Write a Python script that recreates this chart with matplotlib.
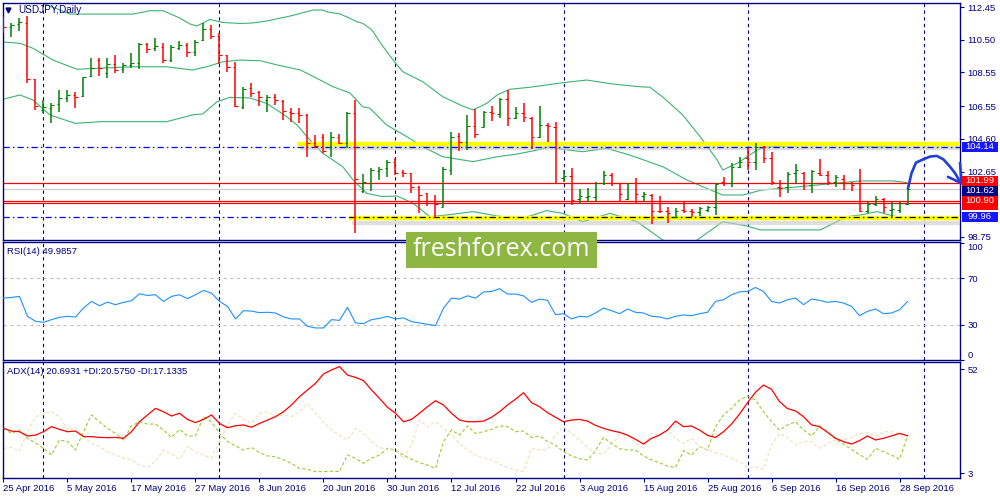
import numpy as np
import pandas as pd
import matplotlib
matplotlib.use("Agg")
import matplotlib.pyplot as plt
from matplotlib.patches import Rectangle

plt.rcParams['font.family'] = ['Liberation Sans', 'DejaVu Sans']

# ---------------- data ----------------
symbol_title = "USDJPY,Daily"
start_date = "2016-04-25"

opens = [111.68, 111.26, 111.44, 111.50, 108.16, 106.32, 106.43, 106.67, 107.03, 107.21,
         107.15, 108.34, 109.29, 108.52, 109.06, 108.76, 109.00, 109.12, 110.25, 110.01,
         110.07, 109.29, 110.01, 110.19, 109.77, 110.48, 111.14, 110.72, 109.59, 108.88,
         106.49, 107.63, 107.39, 106.91, 107.09, 106.85, 106.20, 106.14, 106.02, 104.35,
         104.71, 104.11, 104.71, 104.35, 106.14, 101.49, 101.97, 102.68, 102.86, 103.22,
         102.62, 102.56, 101.73, 101.37, 100.78, 100.54, 102.74, 104.77, 104.41, 105.36,
         105.30, 106.20, 106.08, 106.97, 105.84, 106.14, 105.84, 104.71, 105.42, 105.30,
         102.27, 102.39, 101.02, 101.13, 101.13, 101.97, 102.44, 101.97, 101.02, 101.97,
         101.19, 101.25, 100.30, 100.30, 99.94, 100.36, 100.30, 100.24, 100.36, 100.54,
         102.03, 101.97, 102.92, 103.46, 103.22, 104.11, 103.46, 101.73, 101.73, 102.56,
         102.56, 101.85, 102.56, 102.44, 102.03, 102.21, 101.97, 101.97, 100.30, 100.72,
         101.02, 100.36, 100.36, 100.72]
highs = [111.87, 111.50, 111.79, 111.91, 108.16, 106.91, 106.73, 107.51, 107.51, 107.39,
         108.28, 109.41, 109.41, 109.41, 109.59, 109.12, 109.71, 110.31, 110.31, 110.60,
         110.31, 110.19, 110.43, 110.31, 110.48, 111.50, 111.38, 110.90, 109.59, 109.17,
         107.69, 107.92, 107.45, 107.21, 107.27, 106.91, 106.43, 106.43, 106.08, 104.83,
         104.89, 105.01, 104.89, 106.20, 106.91, 102.50, 102.86, 102.92, 103.34, 103.46,
         102.74, 102.56, 101.79, 101.37, 101.25, 102.92, 105.01, 104.95, 106.02, 106.38,
         106.26, 106.55, 107.03, 107.51, 106.49, 106.73, 105.90, 106.55, 105.54, 105.60,
         102.74, 102.86, 101.61, 101.67, 102.03, 102.68, 102.56, 101.97, 101.97, 102.27,
         101.43, 101.31, 101.19, 100.54, 100.48, 100.84, 100.42, 100.54, 100.60, 101.97,
         102.33, 103.16, 103.52, 104.05, 104.35, 104.17, 103.82, 102.15, 102.62, 103.10,
         102.62, 102.74, 103.40, 102.68, 102.44, 102.44, 102.03, 102.80, 100.90, 101.19,
         101.08, 100.84, 100.84, 101.67]
lows = [110.90, 110.66, 111.02, 107.92, 106.32, 106.14, 105.54, 106.20, 106.79, 106.43,
        107.09, 108.28, 108.34, 108.22, 108.52, 108.52, 108.82, 108.76, 109.71, 109.83,
        109.12, 109.17, 109.89, 109.47, 109.53, 110.43, 110.54, 109.06, 108.58, 106.49,
        106.38, 107.09, 106.55, 106.20, 106.61, 105.72, 105.60, 105.54, 103.52, 104.05,
        103.75, 103.52, 104.29, 104.05, 98.99, 101.37, 101.49, 102.15, 102.33, 102.45,
        102.33, 101.37, 100.18, 100.60, 99.88, 100.54, 102.45, 103.87, 103.93, 104.65,
        105.30, 105.66, 105.84, 105.36, 105.78, 105.60, 103.99, 104.65, 104.41, 101.97,
        102.03, 100.66, 100.72, 100.84, 100.84, 101.85, 101.79, 100.84, 100.96, 100.78,
        100.84, 99.50, 100.18, 99.56, 99.88, 100.18, 99.94, 100.00, 100.24, 100.06,
        101.79, 101.73, 102.86, 102.74, 102.74, 103.16, 101.85, 101.13, 101.37, 101.91,
        101.55, 101.37, 102.39, 101.85, 101.73, 101.55, 101.49, 100.24, 100.18, 100.60,
        100.18, 99.94, 100.18, 100.66]
closes = [111.26, 111.38, 111.56, 108.16, 106.55, 106.49, 106.61, 107.03, 107.21, 107.09,
          108.28, 108.82, 108.82, 109.06, 108.70, 109.00, 109.12, 110.25, 109.95, 110.13,
          109.29, 110.07, 110.19, 109.77, 110.37, 111.14, 110.72, 109.59, 108.88, 106.55,
          107.57, 107.33, 107.09, 107.09, 106.91, 106.26, 106.14, 106.02, 104.35, 104.17,
          103.87, 104.71, 104.35, 106.14, 102.21, 102.03, 102.74, 102.80, 103.22, 102.56,
          102.56, 101.73, 101.25, 100.78, 100.72, 102.80, 104.71, 104.41, 105.36, 104.89,
          106.20, 106.14, 106.97, 105.84, 106.14, 105.90, 104.71, 105.42, 105.36, 101.97,
          102.39, 100.96, 101.19, 101.17, 101.97, 102.44, 101.97, 101.31, 101.97, 101.31,
          101.31, 100.30, 100.28, 100.18, 100.30, 100.30, 100.24, 100.48, 100.54, 101.91,
          101.97, 102.92, 103.22, 103.22, 104.11, 103.46, 102.03, 101.67, 102.50, 102.74,
          101.97, 102.68, 102.44, 102.03, 102.33, 101.97, 101.85, 100.30, 100.72, 101.02,
          100.54, 100.39, 100.78, 101.62]

# Bollinger bands (bar position, price)
bb_upper_pos = [-1.0, 4.56, 8.31, 16.19, 18.31, 19.94, 22.06, 23.3, 24.19, 25.8, 27.4, 29.6,
                31.2, 32.9, 35.8, 37.4, 38.7, 39.9, 40.4, 42.1, 43.3, 44.2, 44.9, 45.8, 46.2,
                47.3, 48.7, 49.9, 52.4, 54.9, 57.4, 58.7, 60.4, 61.7, 63.3, 65.8, 69.9, 72.9,
                76.2, 79.6, 80.8, 82.4, 84.9, 87.4, 89.2, 89.9, 91.7, 94.2, 95.2, 100.8, 104.6,
                107.1, 112.9]
bb_upper_val = [113.6, 112.75, 112.03, 112.03, 112.23, 112.23, 111.79, 111.44, 111.32, 111.71,
                111.53, 111.47, 111.50, 111.62, 111.91, 112.11, 112.27, 112.27, 112.17, 112.03,
                111.78, 111.57, 111.48, 111.18, 110.98, 110.19, 109.29, 108.60, 108.00, 107.11,
                106.55, 106.32, 106.71, 107.21, 107.55, 107.67, 107.94, 108.10, 107.86, 107.70,
                107.67, 107.09, 106.02, 104.53, 103.34, 102.74, 103.14, 103.93, 104.11, 104.23,
                104.23, 104.13, 104.09]
bb_mid_pos = [-0.44, 2.06, 3.69, 6.19, 9.19, 11.7, 16.2, 20.4, 23.6, 25.4, 27.4, 29.6, 32.1,
              34.2, 37.1, 39.6, 41.2, 43.3, 44.9, 45.8, 47.9, 50.4, 52.4, 54.9, 58.7, 61.7,
              64.2, 66.7, 68.3, 69.9, 72.4, 75.4, 78.3, 81.2, 82.4, 85.4, 87.4, 89.9, 92.4,
              94.8, 98.7, 104.9, 107.1, 111.2, 112.9]
bb_mid_val = [110.38, 110.29, 109.99, 109.29, 108.74, 108.80, 108.89, 108.89, 108.70, 108.89,
              109.19, 109.29, 109.25, 109.00, 108.70, 108.10, 107.70, 107.33, 106.51, 106.42,
              105.42, 104.73, 104.13, 103.53, 103.24, 103.53, 103.69, 103.93, 104.13, 103.97,
              103.83, 104.03, 103.63, 103.14, 102.94, 102.15, 101.75, 101.25, 101.25, 101.55,
              101.71, 101.99, 102.09, 102.09, 101.99]
bb_low_pos = [-0.44, 2.06, 3.69, 5.81, 8.94, 12.1, 20.4, 23.6, 24.9, 26.7, 28.3, 30.8, 32.9,
              35.4, 36.7, 38.3, 39.9, 42.4, 43.7, 45.4, 47.3, 49.2, 51.2, 53.3, 55.4, 58.7,
              61.7, 64.9, 67.9, 69.9, 72.4, 75.8, 79.2, 82.4, 84.6, 86.7, 89.9, 92.9, 94.6,
              102.1, 105.4, 107.1, 109.2, 111.2, 112.9]
bb_low_val = [106.91, 107.21, 106.91, 106.02, 105.52, 105.62, 105.62, 106.02, 106.08, 106.81,
              107.07, 107.03, 106.71, 105.92, 105.42, 104.53, 103.74, 102.94, 102.15, 101.35,
              101.16, 101.19, 100.76, 99.96, 100.06, 100.26, 100.00, 99.86, 100.32, 100.16,
              99.66, 100.16, 99.66, 98.57, 98.10, 98.57, 99.66, 99.41, 99.17, 99.17, 99.96,
              100.06, 100.26, 100.00, 99.86]

rsi = [52.9, 53.5, 54.4, 37.4, 33.1, 32.2, 34.5, 36.5, 37.3, 36.8,
       44.4, 50.1, 46.4, 49.5, 47.3, 49.3, 50.7, 56.6, 55.2, 55.8,
       50.1, 54.4, 55.8, 52.4, 55.8, 59.5, 57.2, 50.1, 45.9, 35.1,
       42.2, 41.8, 40.5, 40.8, 40.2, 36.8, 35.1, 35.1, 28.8, 27.4,
       27.4, 34.5, 33.9, 45.0, 31.7, 31.1, 34.5, 35.6, 37.3, 35.1,
       36.0, 32.8, 31.7, 30.5, 29.4, 44.4, 52.9, 52.1, 54.9, 52.9,
       58.1, 58.6, 61.0, 56.4, 56.4, 54.9, 49.3, 52.1, 51.0, 38.8,
       39.6, 35.1, 37.4, 36.8, 40.2, 44.4, 42.2, 39.6, 43.6, 40.8,
       40.2, 37.4, 36.8, 35.1, 37.4, 38.5, 37.9, 39.6, 40.8, 50.1,
       51.5, 55.8, 58.3, 58.6, 62.0, 58.6, 50.1, 48.7, 51.5, 53.0,
       47.3, 52.1, 51.0, 49.3, 50.1, 48.7, 45.9, 37.9, 41.6, 43.6,
       39.6, 40.2, 43.0, 49.99]

adx = [24.2, 22.9, 22.6, 20.6, 21.0, 22.6, 25.0, 23.7, 22.6, 22.9,
       20.3, 20.3, 19.9, 19.8, 19.9, 19.5, 22.6, 27.3, 30.5, 33.6,
       32.0, 30.0, 31.3, 28.4, 26.9, 28.4, 30.5, 26.5, 24.5, 25.4,
       25.8, 24.7, 26.5, 28.1, 29.7, 32.0, 35.2, 39.1, 42.3, 45.4,
       49.8, 51.7, 53.3, 49.3, 48.2, 46.7, 42.3, 38.3, 34.1, 31.3,
       27.3, 28.4, 31.3, 34.4, 37.2, 35.2, 31.3, 28.1, 27.3, 27.3,
       27.6, 29.4, 32.0, 35.2, 37.9, 41.0, 36.3, 34.4, 31.6, 29.4,
       27.3, 28.1, 28.4, 27.6, 25.6, 24.2, 23.1, 22.3, 21.0, 19.0,
       16.8, 19.5, 21.0, 23.4, 27.6, 25.0, 25.3, 23.4, 20.9, 19.9,
       22.6, 26.2, 30.9, 36.3, 41.2, 44.6, 42.6, 36.8, 33.5, 32.4,
       29.7, 25.8, 25.0, 22.3, 19.5, 17.9, 16.8, 18.4, 20.6, 18.7,
       19.5, 20.6, 21.8, 20.69]
plus_di = [24.2, 21.8, 23.4, 19.5, 17.4, 14.8, 11.6, 18.7, 18.0, 14.0,
           22.6, 30.5, 27.3, 24.2, 21.8, 18.7, 25.3, 27.3, 26.2, 26.2,
           23.4, 19.9, 23.7, 20.6, 20.6, 29.7, 27.3, 21.8, 18.0, 15.9,
           14.0, 15.2, 12.7, 11.2, 10.8, 9.3, 7.7, 5.3, 4.9, 3.8,
           3.8, 4.0, 3.8, 11.6, 10.1, 7.7, 10.1, 11.6, 14.8, 14.0,
           11.6, 9.6, 8.0, 6.9, 5.3, 18.0, 23.4, 21.0, 25.3, 21.8,
           22.6, 23.7, 25.3, 25.0, 22.6, 22.9, 19.9, 20.6, 18.0, 16.2,
           13.2, 11.2, 9.9, 9.3, 13.7, 19.9, 17.1, 14.6, 14.0, 14.0,
           11.2, 9.3, 8.0, 6.4, 5.8, 13.7, 11.6, 15.5, 14.0, 25.0,
           30.5, 33.6, 37.5, 39.4, 37.5, 32.0, 27.3, 23.4, 25.8, 27.3,
           23.4, 20.6, 25.0, 22.6, 19.2, 16.7, 14.3, 11.8, 9.6, 14.8,
           13.2, 11.6, 9.6, 20.58]
minus_di = [14.8, 15.2, 13.2, 22.6, 29.7, 31.3, 32.0, 29.7, 23.4, 24.2,
            20.3, 17.1, 15.5, 13.2, 11.6, 10.1, 9.3, 6.9, 5.8, 8.5,
            14.0, 12.1, 9.6, 15.5, 13.2, 11.6, 10.1, 17.9, 25.8, 31.3,
            28.4, 26.5, 31.3, 32.0, 30.0, 30.5, 29.7, 32.0, 36.0, 31.3,
            27.3, 23.4, 21.0, 18.7, 24.2, 21.8, 18.0, 15.2, 14.0, 14.0,
            10.1, 16.3, 28.1, 25.0, 27.3, 24.2, 21.0, 17.1, 14.0, 11.6,
            10.1, 9.3, 7.4, 5.8, 4.6, 3.8, 14.8, 14.0, 14.3, 21.0,
            25.0, 21.8, 18.7, 15.2, 12.4, 12.1, 16.3, 21.0, 21.0, 17.1,
            15.2, 21.8, 21.0, 23.4, 19.5, 17.1, 19.5, 15.5, 14.0, 12.7,
            11.6, 10.1, 8.5, 5.8, 6.1, 4.9, 16.3, 21.8, 19.9, 16.3,
            18.0, 18.0, 14.8, 17.1, 18.7, 18.7, 19.9, 21.8, 22.1, 20.3,
            22.6, 22.6, 21.8, 17.13]

# horizontal levels
level_resist = 104.14
level_support = 99.96
red_levels = [101.99, 100.90, 100.78]
bid_price = 101.62
yellow_top = 104.29
yellow_bottom = 99.87
yellow_top_start = 36.7
yellow_bottom_start = 43.2

# hand-drawn forecast arrow (bar position, price)
arrow_pos = [113.06, 113.5, 114.06, 114.98, 115.81, 116.65, 117.47, 118.31, 118.94, 119.56, 119.77]
arrow_val = [101.65, 102.55, 103.18, 103.38, 103.54, 103.58, 103.38, 102.94, 102.55, 102.05, 101.95]
arrow_head_pos = [119.56, 119.77, 118.06]
arrow_head_val = [103.16, 101.95, 102.33]

# visible price-scale labels (100.70 is hidden behind the level boxes in the original)
price_ticks = [112.45, 110.50, 108.55, 106.55, 104.60, 102.65, 98.75]
rsi_ticks = [0, 30, 70, 100]
adx_ticks = [3, 52]

rsi_text = "RSI(14) 49.9857"
adx_text = "ADX(14) 20.6931 +DI:20.5750 -DI:17.1335"
watermark = "freshforex.com"

# ---------------- drawing ----------------
NAVY = '#000080'
FS = 6.8
n = len(opens)
x = np.arange(n)
o = np.array(opens); h = np.array(highs); l = np.array(lows); c = np.array(closes)
dates = pd.bdate_range(start_date, periods=121)
month_breaks = [i for i in range(1, len(dates)) if dates[i].month != dates[i - 1].month]

fig = plt.figure(figsize=(10, 5), dpi=100, facecolor='white')
W, H = 1000.0, 500.0


def add_panel(left, top, right, bottom):
    return fig.add_axes([left / W, 1 - bottom / H, (right - left) / W, (bottom - top) / H])


ax1 = add_panel(3, 3, 960, 240)
ax2 = add_panel(3, 242, 960, 360)
ax3 = add_panel(3, 362, 960, 478)
XLIM = (-0.06, 119.56)

for ax in (ax1, ax2, ax3):
    ax.set_xlim(*XLIM)
    ax.set_facecolor('white')
    for s in ax.spines.values():
        s.set_color(NAVY)
        s.set_linewidth(1.0)
    ax.yaxis.tick_right()
    ax.tick_params(axis='y', direction='out', length=3, width=0.8, colors=NAVY,
                   labelsize=FS, pad=2.5)
    for mb in month_breaks:
        ax.axvline(mb, color=NAVY, lw=0.8, ls=(0, (3, 3)), zorder=1)

# ----- main price panel -----
YLIM1 = (98.57, 112.69)
ax1.set_ylim(*YLIM1)
ax1.set_xticks([])
ax1.set_yticks(price_ticks, labels=[f"{v:.2f}" for v in price_ticks])

bb_col = '#3cb371'
ax1.plot(bb_upper_pos, bb_upper_val, color=bb_col, lw=0.8, zorder=2)
ax1.plot(bb_mid_pos, bb_mid_val, color=bb_col, lw=0.8, zorder=2)
ax1.plot(bb_low_pos, bb_low_val, color=bb_col, lw=0.8, zorder=2)

for rl in red_levels:
    ax1.axhline(rl, color='#ff0000', lw=0.9, zorder=2)
ax1.axhline(bid_price, color='#cfcfcf', lw=0.9, zorder=2)

# yellow zones with drop shadow
ax1.hlines(yellow_top - 0.26, yellow_top_start + 0.4, XLIM[1], color='#c8c8c8', lw=3.0, alpha=0.6, zorder=2.8)
ax1.hlines(yellow_top, yellow_top_start, XLIM[1], color='#ffff00', lw=3.2, zorder=3)
ax1.hlines(yellow_bottom - 0.26, yellow_bottom_start + 0.4, XLIM[1], color='#c8c8c8', lw=3.0, alpha=0.6, zorder=2.8)
ax1.hlines(yellow_bottom, yellow_bottom_start, XLIM[1], color='#ffff00', lw=3.2, zorder=3)

dashdot = (0, (5, 2.5, 1.2, 2.5))
ax1.axhline(level_resist, color='#0000ff', lw=0.9, ls=dashdot, zorder=3.2)
ax1.hlines(level_support, XLIM[0], yellow_bottom_start, color='#0000ff', lw=0.9, ls=dashdot, zorder=3.2)
ax1.hlines(level_support, yellow_bottom_start, XLIM[1], color='#000000', lw=0.9, ls=dashdot, zorder=3.2)

# OHLC bars
cols = np.where(c >= o, '#008000', '#ff0000')
ax1.vlines(x, l, h, colors=cols, lw=1.1, zorder=4)
ax1.hlines(o, x - 0.33, x, colors=cols, lw=0.8, zorder=4)
ax1.hlines(c, x, x + 0.33, colors=cols, lw=0.8, zorder=4)

# forecast arrow
ax1.plot(arrow_pos, arrow_val, color='#1f3fd8', lw=1.9, solid_capstyle='round',
         solid_joinstyle='round', zorder=6, clip_on=False)
ax1.plot(arrow_head_pos, arrow_head_val, color='#1f3fd8', lw=1.9, solid_capstyle='round',
         solid_joinstyle='round', zorder=6, clip_on=False)

# price boxes on the right axis (10 px tall, 36 px wide)
px_per_unit = 237.0 / (YLIM1[1] - YLIM1[0])
box_h = 10.0 / px_per_unit
box_left = (962 - 3) / 957.0
box_w = 36.0 / 957.0
ytr = ax1.get_yaxis_transform()


def price_box(val, fc, z, shift_px=0.0, show_text=True):
    yc = val - shift_px / px_per_unit
    ax1.add_patch(Rectangle((box_left, yc - box_h / 2), box_w, box_h, transform=ytr,
                            fc=fc, ec='none', zorder=z, clip_on=False))
    if show_text:
        ax1.text(box_left + box_w / 2, yc, f"{val:.2f}", transform=ytr, ha='center',
                 va='center', fontsize=FS, color='white', zorder=z + 0.5, clip_on=False)


price_box(level_resist, '#1515ff', 10)
price_box(red_levels[2], '#ff0000', 9, shift_px=2.0, show_text=False)
price_box(red_levels[1], '#ff0000', 10)
price_box(bid_price, NAVY, 10, shift_px=1.8)
price_box(red_levels[0], '#ff0000', 11, shift_px=-1.6)
price_box(level_support, '#1515ff', 10)

ax1.plot([0.0052], [0.970], marker='v', ms=3.5, color=NAVY, transform=ax1.transAxes,
         clip_on=False, zorder=7)
fig.text(18 / W, 1 - 10 / H, symbol_title, fontsize=FS + 0.4, color=NAVY, va='center', ha='left')

# ----- RSI panel -----
ax2.set_ylim(0, 100.9)
ax2.set_xticks([])
ax2.plot(x, rsi, color='#1e90ff', lw=0.8, zorder=3)
for lv in (70, 30):
    ax2.axhline(lv, color='#c0c0c0', lw=0.8, ls=(0, (3, 3)), zorder=2)
ax2.set_yticks(rsi_ticks, labels=[str(v) for v in rsi_ticks])
for tk in ax2.yaxis.get_major_ticks():
    if tk.get_loc() == 100:
        tk.label2.set_va('top')
    elif tk.get_loc() == 0:
        tk.label2.set_va('bottom')
fig.text(7 / W, 1 - 251 / H, rsi_text, fontsize=FS, color=NAVY, va='center', ha='left')

# ----- ADX panel -----
ax3.set_ylim(0.79, 55.45)
ax3.plot(x, plus_di, color='#9acd32', lw=0.8, ls=(0, (3, 2)), zorder=2)
ax3.plot(x, minus_di, color='#f5deb3', lw=0.8, ls=(0, (3, 2)), zorder=2)
ax3.plot(x, adx, color='#ff0000', lw=0.9, zorder=3)
ax3.set_yticks(adx_ticks, labels=[str(v) for v in adx_ticks])
date_pos = list(range(0, n, 8))
ax3.set_xticks(date_pos, labels=[f"{dates[i].day} {dates[i]:%b %Y}" for i in date_pos])
ax3.tick_params(axis='x', direction='out', length=3, width=0.8, colors=NAVY, labelsize=FS, pad=1.5)
for t in ax3.get_xticklabels():
    t.set_ha('left')
fig.text(7 / W, 1 - 372 / H, adx_text, fontsize=FS, color=NAVY, va='center', ha='left')

# ----- watermark -----
fig.patches.append(Rectangle((406 / W, 1 - 268 / H), 191 / W, 36 / H, transform=fig.transFigure,
                             fc='#8db642', ec='none', zorder=20))
fig.text(501.5 / W, 1 - 250 / H, watermark, fontsize=18, color='white', ha='center', va='center',
         family=['Open Sans', 'DejaVu Sans'], zorder=21)

fig.savefig('out.png', dpi=100, facecolor='white')
